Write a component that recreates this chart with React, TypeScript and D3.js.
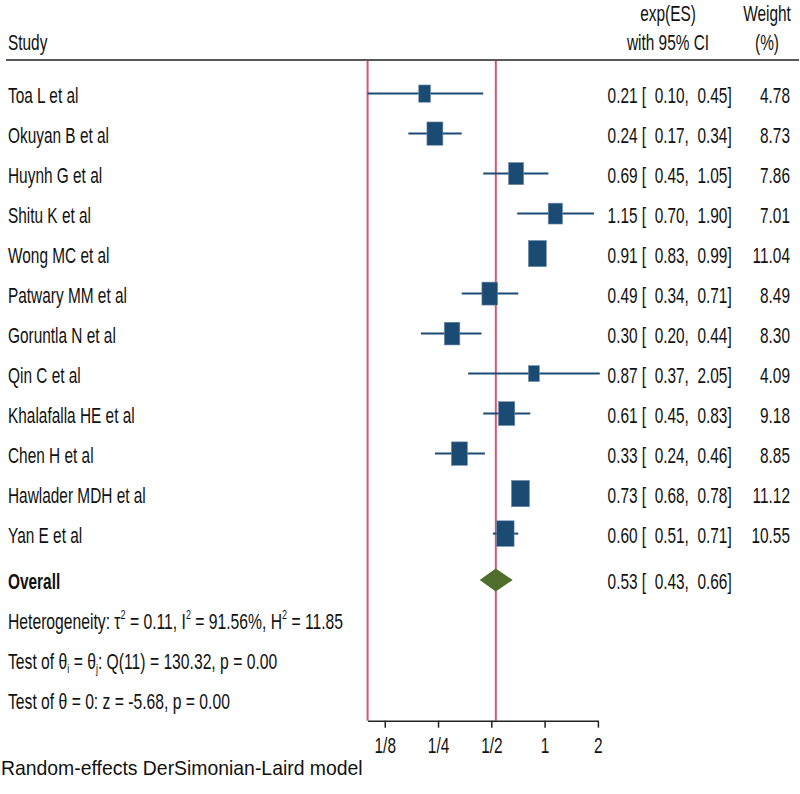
import React, { useEffect, useRef } from "react";
import * as d3 from "d3";

const studies = [
  "Toa L et al", "Okuyan B et al", "Huynh G et al", "Shitu K et al", "Wong MC et al",
  "Patwary MM et al", "Goruntla N et al", "Qin C et al", "Khalafalla HE et al",
  "Chen H et al", "Hawlader MDH et al", "Yan E et al",
];
const es = [0.21, 0.24, 0.69, 1.15, 0.91, 0.49, 0.30, 0.87, 0.61, 0.33, 0.73, 0.60];
const lo = [0.10, 0.17, 0.45, 0.70, 0.83, 0.34, 0.20, 0.37, 0.45, 0.24, 0.68, 0.51];
const hi = [0.45, 0.34, 1.05, 1.90, 0.99, 0.71, 0.44, 2.05, 0.83, 0.46, 0.78, 0.71];
const weights = [4.78, 8.73, 7.86, 7.01, 11.04, 8.49, 8.30, 4.09, 9.18, 8.85, 11.12, 10.55];
const overall = { es: 0.53, lo: 0.43, hi: 0.66 };
const tickValues = [0.125, 0.25, 0.5, 1, 2];
const tickLabels = ["1/8", "1/4", "1/2", "1", "2"];

const SY = 1.46;
const FS = 15.4;
const FONT = "'Liberation Sans', Arial, Helvetica, sans-serif";
const BLUE = "#1b4a72";
const RED = "#d9546f";
const GREEN = "#4f6e2c";

function T({ x, y, anchor = "start", bold = false, size = FS, sy = SY, children }: any) {
  return (
    <text
      transform={`translate(${x},${y}) scale(1,${sy})`}
      textAnchor={anchor}
      fontFamily={FONT}
      fontSize={size}
      fontWeight={bold ? "bold" : "normal"}
      fill="#111"
      style={{ whiteSpace: "pre" }}
    >
      {children}
    </text>
  );
}

const f2 = (v: number) => v.toFixed(2);

export default function App() {
  const axisRef = useRef<SVGGElement>(null);
  const x = d3.scaleLog().base(2).domain([0.1, 2]).range([367.6, 597.9]);
  const rowY = (i: number) => 93.6 + 40 * i;
  const overallY = 580;
  const axisY = 720.7;

  useEffect(() => {
    if (!axisRef.current) return;
    const g = d3.select(axisRef.current);
    g.selectAll("*").remove();
    g.call(
      d3.axisBottom(x)
        .tickValues(tickValues)
        .tickFormat((_d, i) => tickLabels[i])
        .tickSize(7)
        .tickSizeOuter(0) as any
    );
    g.select(".domain").attr("stroke", "#222").attr("stroke-width", 1.5);
    g.selectAll(".tick line").attr("stroke", "#222").attr("stroke-width", 1.5);
    g.selectAll(".tick text")
      .attr("y", null)
      .attr("dy", null)
      .attr("transform", `translate(0,32) scale(1,${SY})`)
      .attr("font-family", FONT)
      .attr("font-size", FS)
      .attr("fill", "#111");
  }, []);

  const sqK = 5.4;

  return (
    <svg width={800} height={794} style={{ position: "absolute", left: 0, top: 0, background: "#fff" }}>
      <rect x={0} y={0} width={800} height={794} fill="#fff" />
      {/* headers */}
      <T x={8} y={49.5}>Study</T>
      <T x={668} y={20.5} anchor="middle">exp(ES)</T>
      <T x={668} y={49.5} anchor="middle">with 95% CI</T>
      <T x={767} y={20.5} anchor="middle">Weight</T>
      <T x={767} y={49.5} anchor="middle">(%)</T>
      <line x1={6} x2={799} y1={60} y2={60} stroke="#222" strokeWidth={1.5} />

      {/* reference lines */}
      <line x1={x(0.1)} x2={x(0.1)} y1={61} y2={axisY} stroke={RED} strokeWidth={2} />
      <line x1={x(overall.es)} x2={x(overall.es)} y1={61} y2={axisY} stroke={RED} strokeWidth={2} />

      {studies.map((s, i) => {
        const y = rowY(i);
        const w = sqK * Math.sqrt(weights[i]);
        const h = w * SY;
        return (
          <g key={s}>
            <line x1={x(lo[i])} x2={x(hi[i])} y1={y} y2={y} stroke={BLUE} strokeWidth={2} />
            <rect x={x(es[i]) - w / 2} y={y - h / 2} width={w} height={h} fill={BLUE} stroke="#6f8fb0" strokeWidth={0.6} />
            <T x={8} y={y + 9.5}>{s}</T>
            <T x={731.7} y={y + 9.5} anchor="end">{`${f2(es[i])} [  ${f2(lo[i])},  ${f2(hi[i])}]`}</T>
            <T x={790} y={y + 9.5} anchor="end">{f2(weights[i])}</T>
          </g>
        );
      })}

      {/* overall */}
      <path
        d={`M${x(overall.lo)},${overallY} L${x(overall.es)},${overallY - 11.5} L${x(overall.hi)},${overallY} L${x(overall.es)},${overallY + 11.5} Z`}
        fill={GREEN}
      />
      <T x={8} y={overallY + 9} bold>Overall</T>
      <T x={731.7} y={overallY + 9} anchor="end">{`${f2(overall.es)} [  ${f2(overall.lo)},  ${f2(overall.hi)}]`}</T>

      <T x={8} y={629} size={15.7}>
        Heterogeneity: τ<tspan dy={-7} fontSize={9}>2</tspan>
        <tspan dy={7}> = 0.11, I</tspan>
        <tspan dy={-7} fontSize={9}>2</tspan>
        <tspan dy={7}> = 91.56%, H</tspan>
        <tspan dy={-7} fontSize={9}>2</tspan>
        <tspan dy={7}> = 11.85</tspan>
      </T>
      <T x={8} y={669} size={15.7}>
        Test of θ<tspan dy={3} fontSize={9}>i</tspan>
        <tspan dy={-3}> = θ</tspan>
        <tspan dy={3} fontSize={9}>j</tspan>
        <tspan dy={-3}>: Q(11) = 130.32, p = 0.00</tspan>
      </T>
      <T x={8} y={709} size={15.7}>Test of θ = 0: z = -5.68, p = 0.00</T>

      <g ref={axisRef} transform={`translate(0,${axisY})`} />

      <T x={1} y={775} size={19.4} sy={1.02}>Random-effects DerSimonian-Laird model</T>
    </svg>
  );
}
